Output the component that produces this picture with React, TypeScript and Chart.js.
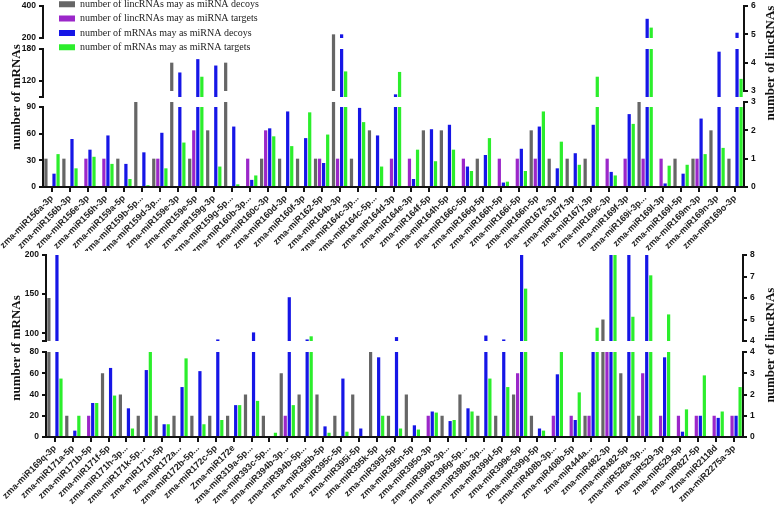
import { useEffect, useRef } from 'react';
import { Chart, registerables } from 'chart.js';

Chart.register(...registerables);

// ---------------- data ----------------
const SERIES_LABELS = [
  'number of lincRNAs may as miRNA decoys',
  'number of lincRNAs may as miRNA targets',
  'number of mRNAs may as miRNA decoys',
  'number of mRNAs may as miRNA targets',
];
const SERIES_COLORS = ['#666666', '#9b27c9', '#1616e6', '#2cee2c'];

const topCategories = [
  'zma-miR156a-3p', 'zma-miR156b-3p', 'zma-miR156e-3p', 'zma-miR156h-3p', 'zma-miR159a-5p',
  'zma-miR159b-5p...', 'zma-miR159d-3p...', 'zma-miR159e-3p', 'zma-miR159e-5p', 'zma-miR159g-3p',
  'zma-miR159g-5p...', 'zma-miR160b-3p...', 'zma-miR160c-3p', 'zma-miR160d-3p', 'zma-miR160f-3p',
  'zma-miR162-5p', 'zma-miR164b-3p', 'zma-miR164c-3p...', 'zma-miR164c-5p...', 'zma-miR164d-3p',
  'zma-miR164e-3p', 'zma-miR164f-5p', 'zma-miR164h-5p', 'zma-miR166c-5p', 'zma-miR166g-5p',
  'zma-miR166h-5p', 'zma-miR166i-5p', 'zma-miR166n-5p', 'zma-miR167e-3p', 'zma-miR167f-3p',
  'zma-miR167j-3p', 'zma-miR169c-3p', 'zma-miR169f-3p', 'zma-miR169i-3p...', 'zma-miR169l-3p',
  'zma-miR169l-5p', 'zma-miR169m-3p', 'zma-miR169n-3p', 'zma-miR169o-3p',
];
const topLincDecoys = [1, 1, null, null, 1, 3, 1, 4, 1, 2, 4, null, 1, 1, 1, 1, 5, 1, 2, null, null, 2, 2, null, 1, null, null, 2, 1, 1, 1, null, null, 3, null, 1, 1, 2, 1];
const topLincTargets = [null, null, 1, 1, null, null, 1, null, 2, null, null, 1, 2, null, null, 1, 1, null, null, 1, 1, null, null, 1, null, 1, 1, 1, null, null, null, 1, 1, 1, 1, null, 1, null, null];
const topMrnaDecoys = [15, 54, 42, 58, 26, 39, 61, 136, 161, 149, 68, 8, 66, 85, 55, 27, 223, 89, 58, 95, 9, 65, 70, 23, 36, 5, 43, 68, 21, 38, 70, 17, 82, 320, 4, 15, 77, 175, 233];
const topMrnaTargets = [37, 21, 34, 26, 9, 2, 21, 50, 128, 23, 3, 13, 57, 46, 84, 59, 138, 73, 23, 137, 42, 29, 42, 18, 55, 6, 18, 85, 51, 25, 128, 13, 71, 265, 24, 25, 37, 44, 124];

const bottomCategories = [
  'zma-miR169q-3p', 'zma-miR171a-5p', 'zma-miR171b-5p', 'zma-miR171f-5p', 'zma-miR171h-3p...',
  'zma-miR171k-5p...', 'zma-miR171n-5p', 'zma-miR172a...', 'zma-miR172b-5p...', 'zma-miR172c-5p',
  'Zma-miR172e', 'zma-miR319a-5p...', 'zma-miR393c-5p...', 'zma-miR394b-3p...', 'zma-miR394b-5p...',
  'zma-miR395b-5p', 'zma-miR395c-5p', 'zma-miR395i-5p', 'zma-miR395k-5p', 'zma-miR395l-5p',
  'zma-miR395n-5p', 'zma-miR395o-3p', 'zma-miR396b-3p...', 'zma-miR396g-5p...', 'zma-miR398b-3p...',
  'zma-miR399d-5p', 'zma-miR399e-5p', 'zma-miR399g-5p', 'zma-miR408b-3p...', 'zma-miR408b-5p',
  'zma-miR444a...', 'zma-miR482-3p', 'zma-miR482-5p', 'zma-miR528a-3p...', 'zma-miR529-3p',
  'zma-miR529-5p', 'zma-miR827-5p', 'Zma-miR2118d', 'zma-miR2275a-3p',
];
const bottomLincDecoys = [6, 1, null, 3, 2, 1, 1, 1, 1, 1, 1, 2, 1, 3, 2, 2, 1, 2, 4, 1, 2, null, 1, 2, 1, 1, 2, 1, null, null, 1, 5, 3, 1, null, null, null, null, null];
const bottomLincTargets = [null, null, 1, null, null, null, null, null, null, null, null, null, null, 1, null, null, null, null, null, null, null, 1, null, null, null, null, 3, null, 1, 1, 1, 4, null, 3, 1, 1, 1, 1, 1];
const bottomMrnaDecoys = [200, 6, 32, 65, 27, 63, 12, 47, 62, 92, 30, 101, null, 146, 92, 10, 55, 8, 75, 95, 11, 24, 15, 27, 97, 92, 200, 8, 59, 16, 82, 200, 200, 200, 75, 5, 20, 18, 20];
const bottomMrnaTargets = [55, 20, 32, 39, 8, 80, 12, 74, 12, 16, 30, 34, 4, 30, 96, 4, 5, null, 20, 8, 7, 23, 16, 24, 55, 47, 157, 6, 80, 42, 107, 200, 121, 174, 124, 26, 58, 24, 47];

// broken-axis segments (bottom to top): tick labels of each piece
const topMrnaTicks = [[0, 30, 60, 90], [90, 120, 180], [200, 300, 400]];
const topLincTicks = [[0, 1, 2, 3], [3, 4, 5, 6]];
const bottomMrnaTicks = [[0, 20, 40, 60, 80], [90, 100, 150, 200]];
const bottomLincTicks = [[0, 1, 2, 3, 4], [4, 5, 6, 7, 8]];

// ---------------- layout of the broken axes (pixel weights) ----------------
type Seg = { ticks?: number[]; hide?: number[]; size: number; gap?: boolean };

const topMrnaAxis: Seg[] = [
  { ticks: topMrnaTicks[0], size: 80 },
  { gap: true, size: 10 },
  { ticks: topMrnaTicks[1], hide: [90], size: 48 },
  { gap: true, size: 11 },
  { ticks: topMrnaTicks[2], size: 32 },
];
const topLincAxis: Seg[] = [
  { ticks: topLincTicks[0], size: 85 },
  { gap: true, size: 11 },
  { ticks: topLincTicks[1], size: 85 },
];
const bottomMrnaAxis: Seg[] = [
  { ticks: bottomMrnaTicks[0], size: 85 },
  { gap: true, size: 11 },
  { ticks: bottomMrnaTicks[1], hide: [90], size: 86 },
];
const bottomLincAxis: Seg[] = [
  { ticks: bottomLincTicks[0], size: 85 },
  { gap: true, size: 11 },
  { ticks: bottomLincTicks[1], size: 86 },
];

const AXIS_COLOR = '#111111';

function buildScales(segs: Seg[], side: string, prefix: string, width: number) {
  const scales: any = {};
  const n = segs.length;
  segs.forEach((seg, i) => {
    const id = prefix + i;
    const common: any = {
      type: 'linear',
      position: side,
      stack: side,
      stackWeight: seg.size,
      weight: side === 'left' ? i : n - 1 - i,
      afterFit: (s: any) => {
        s.width = width;
        s.paddingTop = 0;
        s.paddingBottom = 0;
        s.paddingLeft = 0;
        s.paddingRight = 0;
      },
    };
    if (seg.gap) {
      scales[id] = {
        ...common,
        min: 0,
        max: 1,
        grid: { display: false },
        border: { display: false },
        ticks: { display: false },
      };
    } else {
      const t = seg.ticks as number[];
      scales[id] = {
        ...common,
        min: t[0],
        max: t[t.length - 1],
        stacked: false,
        afterBuildTicks: (s: any) => {
          s.ticks = t.map((v) => ({ value: v }));
        },
        ticks: {
          color: AXIS_COLOR,
          padding: 3,
          font: { family: 'Liberation Sans', size: 8.5, weight: 'bold' },
          callback: (v: number) => (seg.hide && seg.hide.includes(v) ? '' : String(v)),
        },
        grid: { display: true, drawOnChartArea: false, drawTicks: true, tickLength: 4, color: AXIS_COLOR, lineWidth: 2 },
        border: { display: true, color: AXIS_COLOR, width: 2 },
      };
    }
  });
  return scales;
}

function buildDatasets(series: (number | null)[][], mrnaSegs: Seg[], lincSegs: Seg[]) {
  const ds: any[] = [];
  series.forEach((values, k) => {
    const isLinc = k < 2;
    const segs = isLinc ? lincSegs : mrnaSegs;
    const prefix = isLinc ? 'r' : 'l';
    let first = true;
    segs.forEach((seg, i) => {
      if (seg.gap) return;
      const t = seg.ticks as number[];
      const lo = t[0];
      const hi = t[t.length - 1];
      const data = values.map((v) => {
        if (v == null) return null;
        if (i === 0) return Math.min(v, hi);
        return v > lo ? [lo, Math.min(v, hi)] : null;
      });
      ds.push({
        label: SERIES_LABELS[k],
        data,
        yAxisID: prefix + i,
        stack: 's' + k,
        backgroundColor: SERIES_COLORS[k],
        borderWidth: 0,
        barPercentage: 0.8,
        categoryPercentage: 0.9,
        inLegend: first,
      });
      first = false;
    });
  });
  return ds;
}

const axisTitlesPlugin = {
  id: 'axisTitles',
  afterDraw(chart: any, _args: any, opts: any) {
    const ctx = chart.ctx;
    (opts.items || []).forEach((t: any) => {
      ctx.save();
      ctx.translate(t.x, t.y);
      ctx.rotate(-Math.PI / 2);
      ctx.font = 'bold 13px "Liberation Serif"';
      ctx.fillStyle = '#111';
      ctx.textAlign = 'center';
      ctx.textBaseline = 'middle';
      ctx.fillText(t.text, 0, 0);
      ctx.restore();
    });
  },
};

const legendShiftPlugin = {
  id: 'legendShift',
  afterLayout(chart: any, _args: any, opts: any) {
    const lg = chart.legend;
    if (!lg || !opts || opts.x == null) return;
    const w = lg.width;
    const h = lg.height;
    lg.left = opts.x;
    lg.right = opts.x + w;
    lg.top = opts.y;
    lg.bottom = opts.y + h;
  },
};

function makeConfig(p: any) {
  return {
    type: 'bar',
    data: {
      labels: p.categories,
      datasets: buildDatasets(p.series, p.mrnaAxis, p.lincAxis),
    },
    options: {
      responsive: false,
      animation: false,
      events: [],
      layout: { padding: { top: p.padTop, left: 0, right: 0, bottom: 0 } },
      scales: {
        x: {
          type: 'category',
          position: 'bottom',
          offset: true,
          grid: { display: true, offset: false, drawOnChartArea: false, drawTicks: true, tickLength: 5, color: AXIS_COLOR, lineWidth: 2 },
          border: { display: true, color: AXIS_COLOR, width: 2 },
          ticks: {
            autoSkip: false,
            maxRotation: 45,
            minRotation: 45,
            padding: 1,
            color: '#222',
            font: { family: 'Liberation Sans', size: 9, weight: 'bold' },
          },
          afterFit: (s: any) => {
            s.height = p.xHeight;
            s.paddingLeft = 0;
            s.paddingRight = 0;
          },
        },
        ...buildScales(p.mrnaAxis, 'left', 'l', p.leftWidth),
        ...buildScales(p.lincAxis, 'right', 'r', p.rightWidth),
      },
      plugins: {
        legend: p.legend
          ? {
              display: true,
              position: 'chartArea',
              align: 'start',
              labels: {
                boxWidth: 16,
                boxHeight: 6,
                padding: 4.3,
                color: '#222',
                font: { family: 'Liberation Serif', size: 10 },
                filter: (item: any, data: any) => !!data.datasets[item.datasetIndex].inLegend,
              },
            }
          : { display: false },
        tooltip: { enabled: false },
        axisTitles: { items: p.titles },
        legendShift: p.legendPos || {},
      },
    },
    plugins: [axisTitlesPlugin, legendShiftPlugin],
  };
}

const topPanel = {
  categories: topCategories,
  series: [topLincDecoys, topLincTargets, topMrnaDecoys, topMrnaTargets],
  mrnaAxis: topMrnaAxis,
  lincAxis: topLincAxis,
  padTop: 6,
  xHeight: 64,
  leftWidth: 43,
  rightWidth: 34,
  legend: true,
  legendPos: { x: 54.7, y: -5 },
  titles: [
    { text: 'number of mRNAs', x: 17, y: 97 },
    { text: 'number of lincRNAs', x: 771, y: 63 },
  ],
};

const bottomPanel = {
  categories: bottomCategories,
  series: [bottomLincDecoys, bottomLincTargets, bottomMrnaDecoys, bottomMrnaTargets],
  mrnaAxis: bottomMrnaAxis,
  lincAxis: bottomLincAxis,
  padTop: 4,
  xHeight: 72,
  leftWidth: 46,
  rightWidth: 35,
  legend: false,
  titles: [
    { text: 'number of mRNAs', x: 17, y: 97 },
    { text: 'number of lincRNAs', x: 771, y: 94 },
  ],
};

function Panel({ top, height, panel }: { top: number; height: number; panel: any }) {
  const ref = useRef<HTMLCanvasElement | null>(null);
  useEffect(() => {
    if (!ref.current) return;
    const chart = new Chart(ref.current, makeConfig(panel) as any);
    return () => chart.destroy();
  }, []);
  return (
    <canvas
      ref={ref}
      width={778}
      height={height}
      style={{ position: 'absolute', left: 0, top, width: 778, height, display: 'block' }}
    />
  );
}

export default function App() {
  return (
    <div style={{ position: 'absolute', left: 0, top: 0, width: 778, height: 509, background: '#ffffff' }}>
      <Panel top={0} height={251} panel={topPanel} />
      <Panel top={251} height={258} panel={bottomPanel} />
    </div>
  );
}
